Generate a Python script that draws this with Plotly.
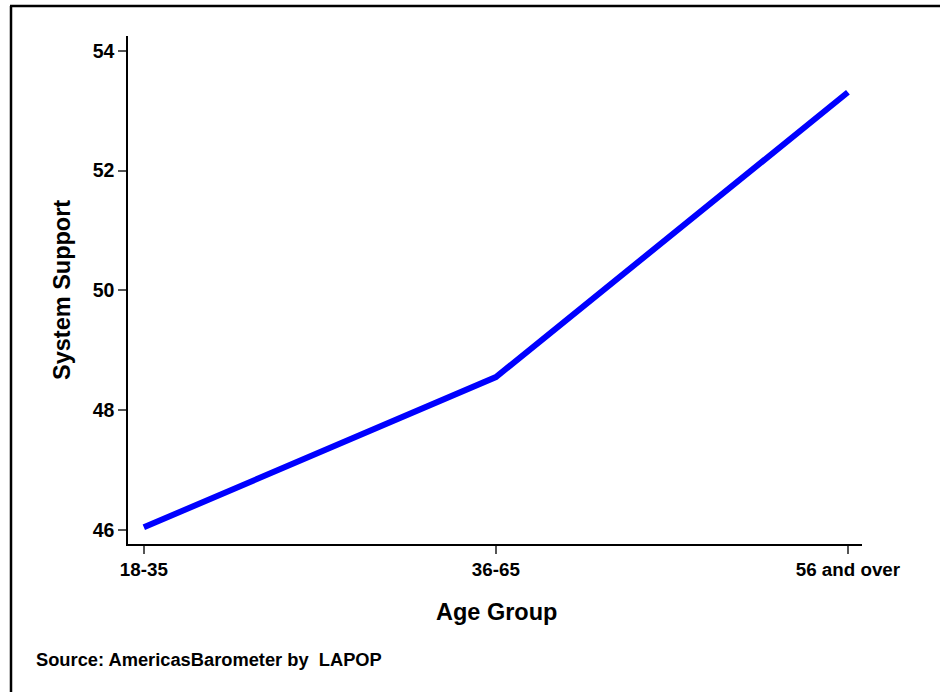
import plotly.graph_objects as go

age_groups = ["18-35", "36-65", "56 and over"]
system_support = [46.04, 48.55, 53.31]
y_ticks = [46, 48, 50, 52, 54]

W, H = 940, 692
L, R, T, B = 128, 862, 36, 544
pw, ph = R - L, B - T

def px(x):
    return (x - L) / pw

def py(y):
    return (B - y) / ph

FONT = "Liberation Sans, Arial, sans-serif"

fig = go.Figure()
fig.add_trace(go.Scatter(
    x=age_groups, y=system_support, mode="lines",
    line=dict(color="#0000FF", width=6), hoverinfo="skip", showlegend=False,
))

fig.update_layout(
    width=W, height=H,
    margin=dict(l=L, r=W - R, t=T, b=H - B),
    paper_bgcolor="white", plot_bgcolor="white",
    font=dict(family=FONT, color="black"),
    xaxis=dict(
        type="category", range=[-0.045, 2.04],
        showline=True, linecolor="black", linewidth=1.5,
        ticks="outside", ticklen=8, tickcolor="#555555", tickwidth=1.5,
        showgrid=False, zeroline=False,
        tickfont=dict(size=18.8, color="black"),
        tickprefix="<b>", ticksuffix="</b>",
    ),
    yaxis=dict(
        range=[45.761, 54.25], tickvals=y_ticks,
        ticktext=[f"<b>{v}</b>" for v in y_ticks],
        showline=True, linecolor="black", linewidth=1.5,
        ticks="outside", ticklen=8, tickcolor="#555555", tickwidth=1.5,
        showgrid=False, zeroline=False,
        tickfont=dict(size=19.5, color="black"),
    ),
    shapes=[
        dict(type="line", xref="paper", yref="paper",
             x0=px(10), x1=px(950), y0=py(6), y1=py(6),
             line=dict(color="black", width=2.5)),
        dict(type="line", xref="paper", yref="paper",
             x0=px(11), x1=px(11), y0=py(6), y1=py(700),
             line=dict(color="black", width=2.5)),
    ],
    annotations=[
        dict(text="<b>System Support</b>", xref="paper", yref="paper",
             x=px(62), y=0.5, textangle=-90, showarrow=False,
             xanchor="center", yanchor="middle", font=dict(size=23.5)),
        dict(text="<b>Age Group</b>", xref="paper", yref="paper",
             x=px(496), y=py(612), showarrow=False,
             xanchor="center", yanchor="middle", font=dict(size=23.5)),
        dict(text="<b>Source: AmericasBarometer by \u00a0LAPOP</b>", xref="paper", yref="paper",
             x=px(34), y=py(659), showarrow=False,
             xanchor="left", yanchor="middle", font=dict(size=18.3)),
    ],
)

fig.write_html(
    "out.html",
    config={"displayModeBar": False},
    post_script="document.body.style.margin='0';document.body.style.overflow='hidden';",
)
